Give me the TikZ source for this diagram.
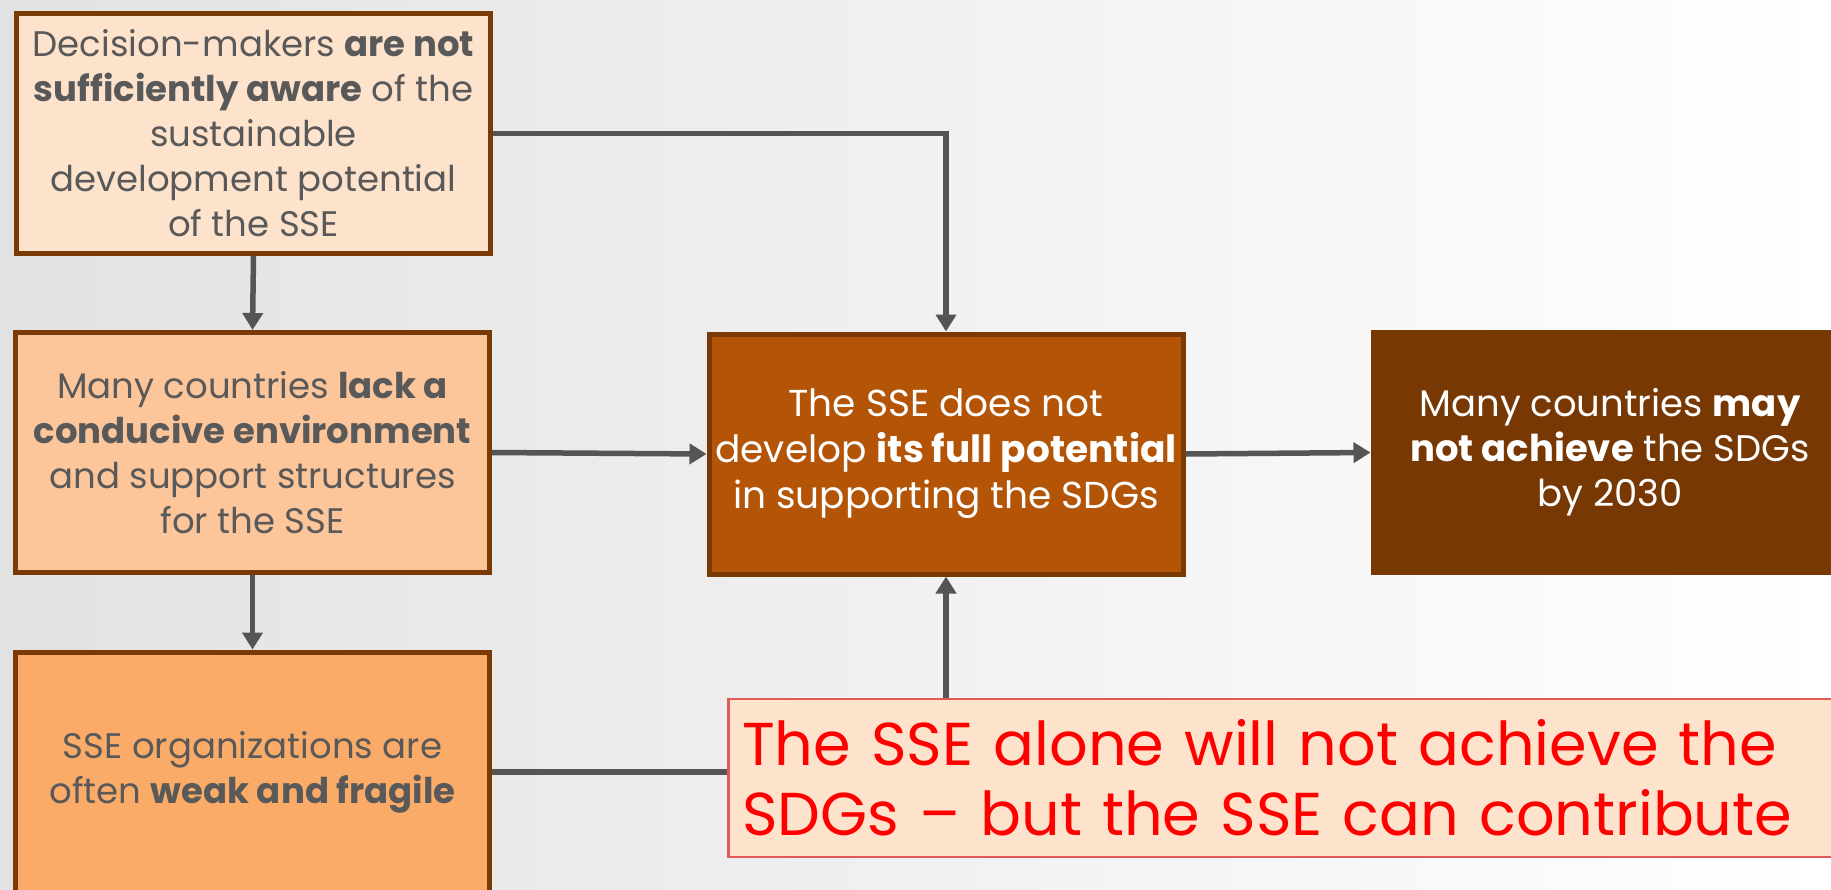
\documentclass[tikz,border=0pt]{standalone}
\usepackage{fontspec}
\setmainfont{Poppins}
\usetikzlibrary{arrows.meta}
\definecolor{bord}{HTML}{7A3A05}
\definecolor{cA}{HTML}{FDE3CC}
\definecolor{cB}{HTML}{FCC59A}
\definecolor{cC}{HTML}{FBAB68}
\definecolor{cD}{HTML}{B35406}
\definecolor{cE}{HTML}{773804}
\definecolor{txtg}{HTML}{595959}
\definecolor{lineg}{HTML}{555555}
\definecolor{redb}{HTML}{E05A5A}
\definecolor{redt}{HTML}{FF0000}
\definecolor{bgl}{HTML}{E2E2E2}
\tikzset{
  box/.style={draw=bord, line width=5pt, minimum width=474pt, minimum height=240pt,
    align=center, inner sep=0pt, font=\fontsize{35.5}{45}\selectfont},
  conn/.style={draw=lineg, line width=5.5pt, -{Triangle[width=20pt,length=17pt]}}
}
\begin{document}
\begin{tikzpicture}[x=1pt,y=-1pt]
\useasboundingbox (0,0) rectangle (1831,889);
\clip (0,0) rectangle (1831,889);
\shade[left color=bgl, right color=white] (0,0) rectangle (1831,889);

\node[box, fill=cA, text=txtg] (b1) at (253.5,133.5)
  {Decision-makers \textbf{are not}\\ \textbf{sufficiently aware} of the\\ sustainable\\ development potential\\ of the SSE};
\node[box, fill=cB, text=txtg] (b2) at (252.5,452.5)
  {Many countries \textbf{lack a}\\ \textbf{conducive environment}\\ and support structures\\ for the SSE};
\node[box, fill=cC, text=txtg] (b3) at (252.5,772)
  {SSE organizations are\\ often \textbf{weak and fragile}};
\node[box, fill=cD, text=white, font=\fontsize{37.5}{46}\selectfont] (c) at (946,454)
  {The SSE does not\\ develop \textbf{its full potential}\\ in supporting the SDGs};
\node[box, draw=cE, fill=cE, text=white, font=\fontsize{37}{45}\selectfont] (r) at (1610,452.5)
  {Many countries \textbf{may}\\ \textbf{not achieve} the SDGs\\ by 2030};

\draw[conn] (b1.south) -- (b2.north);
\draw[conn] (b2.south) -- (b3.north);
\draw[conn] (b1.east) -- (b1.east -| c.north) -- (c.north);
\draw[conn] (b2.east) -- (c.west);
\draw[conn] (c.east) -- (r.west);
\draw[conn] (b3.east) -- (b3.east -| c.south) -- (c.south);

\node[draw=redb, line width=2.5pt, fill=cA, text=redt, anchor=west, align=left,
  minimum width=1120pt, minimum height=158pt, inner xsep=14pt, text width=1092pt,
  font=\fontsize{60.5}{70}\selectfont] (note) at (727,778)
  {The SSE alone will not achieve the\\ SDGs \textendash{} but the SSE can contribute};
\end{tikzpicture}
\end{document}
